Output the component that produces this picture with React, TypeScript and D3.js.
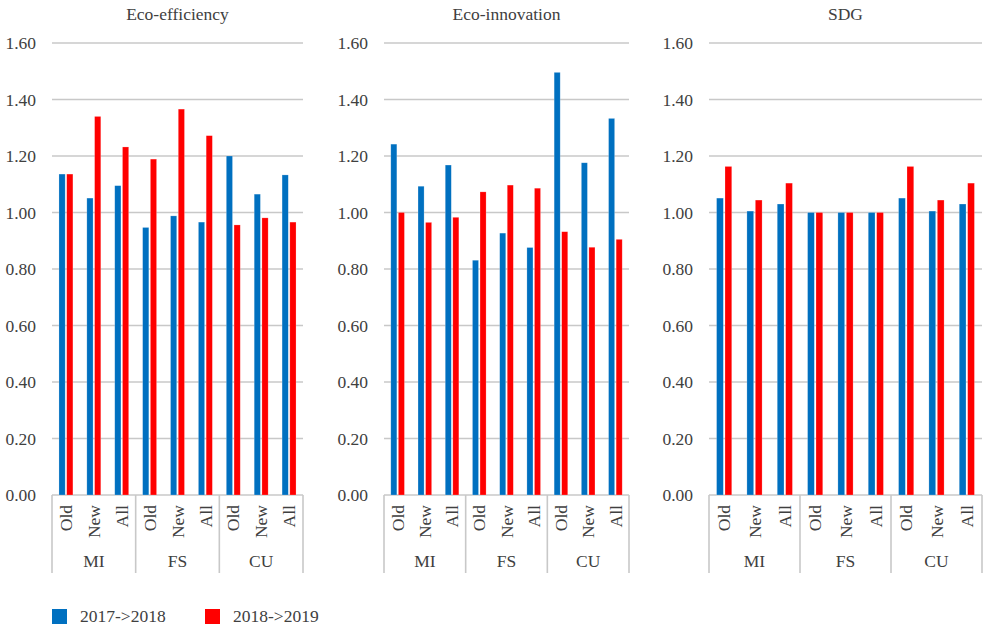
import React from "react";
import * as d3 from "d3";

const groups = ["MI", "FS", "CU"];
const subCats = ["Old", "New", "All"];
const seriesNames = ["2017->2018", "2018->2019"];
const seriesColors = ["#0070C0", "#FF0000"];
const yTicks = [0, 0.2, 0.4, 0.6, 0.8, 1.0, 1.2, 1.4, 1.6];

const panelTitles = ["Eco-efficiency", "Eco-innovation", "SDG"];

// values per panel, order: MI Old, MI New, MI All, FS Old, FS New, FS All, CU Old, CU New, CU All
const effS1 = [1.136, 1.051, 1.095, 0.947, 0.988, 0.966, 1.2, 1.065, 1.133];
const effS2 = [1.136, 1.34, 1.232, 1.189, 1.366, 1.272, 0.956, 0.981, 0.966];
const innS1 = [1.242, 1.093, 1.168, 0.831, 0.927, 0.876, 1.496, 1.176, 1.333];
const innS2 = [1.0, 0.965, 0.983, 1.073, 1.097, 1.086, 0.932, 0.877, 0.905];
const sdgS1 = [1.051, 1.005, 1.03, 1.0, 1.0, 1.0, 1.051, 1.005, 1.03];
const sdgS2 = [1.163, 1.044, 1.104, 1.0, 1.0, 1.0, 1.163, 1.044, 1.104];

const panelData = [
  [effS1, effS2],
  [innS1, innS2],
  [sdgS1, sdgS2],
];

const panelX = [
  [52, 303],
  [384, 629],
  [709, 982],
];

const FONT = "'Liberation Serif', 'Times New Roman', serif";
const FS = 17.5;
const TEXT = "#404040";
const GRID = "#c8c8c8";

const top = 43;
const bottom = 495;

function Panel({ idx }: { idx: number }) {
  const [x0, x1] = panelX[idx];
  const cats = groups.flatMap((g) => subCats.map((s) => `${g}|${s}`));
  const x = d3.scaleBand<string>().domain(cats).range([x0, x1]).padding(0);
  const cw = x.bandwidth();
  const inner = d3
    .scaleBand<number>()
    .domain([0, 1])
    .range([cw * 0.25, cw * 0.75])
    .paddingInner(0.2)
    .paddingOuter(0);
  const y = d3.scaleLinear().domain([0, 1.6]).range([bottom, top]);
  const gw = (x1 - x0) / groups.length;
  const data = panelData[idx];
  return (
    <g>
      <text
        x={(x0 + x1) / 2}
        y={20}
        textAnchor="middle"
        fontFamily={FONT}
        fontSize={FS}
        fill={TEXT}
      >
        {panelTitles[idx]}
      </text>
      {yTicks.map((t) => (
        <g key={t}>
          <line x1={x0} x2={x1} y1={y(t)} y2={y(t)} stroke={GRID} strokeWidth={1.6} />
          <text
            x={x0 - 16}
            y={y(t) + 6}
            textAnchor="end"
            fontFamily={FONT}
            fontSize={FS}
            fill={TEXT}
          >
            {t.toFixed(2)}
          </text>
        </g>
      ))}
      {data.map((vals, si) =>
        vals.map((v, ci) => (
          <rect
            key={`${si}-${ci}`}
            x={(x(cats[ci]) as number) + (inner(si) as number)}
            y={y(v)}
            width={inner.bandwidth()}
            height={y(0) - y(v)}
            fill={seriesColors[si]}
            stroke="#ffffff"
            strokeOpacity={0.35}
            strokeWidth={0.6}
          />
        ))
      )}
      {d3.range(groups.length + 1).map((i) => (
        <line
          key={i}
          x1={x0 + i * gw}
          x2={x0 + i * gw}
          y1={bottom}
          y2={573}
          stroke={GRID}
          strokeWidth={1.6}
        />
      ))}
      {cats.map((c, ci) => {
        const cx = (x(c) as number) + cw / 2;
        return (
          <text
            key={c}
            transform={`translate(${cx},505) rotate(-90)`}
            dy="0.35em"
            textAnchor="end"
            fontFamily={FONT}
            fontSize={FS}
            fill={TEXT}
          >
            {subCats[ci % 3]}
          </text>
        );
      })}
      {groups.map((g, gi) => (
        <text
          key={g}
          x={x0 + gw * (gi + 0.5)}
          y={567}
          textAnchor="middle"
          fontFamily={FONT}
          fontSize={FS}
          fill={TEXT}
        >
          {g}
        </text>
      ))}
    </g>
  );
}

export default function App() {
  const legendX = [52, 205];
  return (
    <svg
      width={983}
      height={626}
      style={{ position: "absolute", left: 0, top: 0, background: "#fff" }}
    >
      <rect x={0} y={0} width={983} height={626} fill="#fff" />
      {panelTitles.map((_, i) => (
        <Panel key={i} idx={i} />
      ))}
      {seriesNames.map((s, i) => (
        <g key={s}>
          <rect x={legendX[i]} y={609} width={15} height={15} fill={seriesColors[i]} />
          <text
            x={legendX[i] + 28}
            y={622}
            fontFamily={FONT}
            fontSize={FS}
            fill={TEXT}
          >
            {s}
          </text>
        </g>
      ))}
    </svg>
  );
}
